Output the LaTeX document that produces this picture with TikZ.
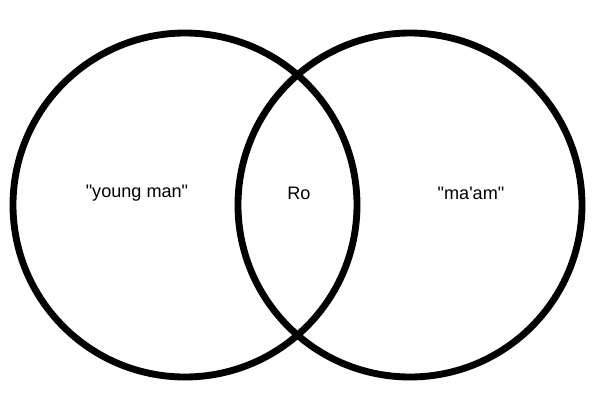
\documentclass[tikz,border=0pt]{standalone}
\usepackage{fontspec}
\setmainfont[Ligatures=TeXOff]{Liberation Sans}

\begin{document}
\begin{tikzpicture}[x=.02cm,y=-.02cm]
	\tikzset{ring/.style={line width=3.9pt},
		label/.style={font=\fontsize{10.3}{12}\selectfont}}
	\useasboundingbox (0,0) rectangle (600,400);
	\draw[ring] (185,205) circle (172);
	\draw[ring] (410,205) circle (172);

	\node[label] (young) at (137,193) {"young man"};
	\node[label] (ro) at (299,193) {Ro};
	\node[label] (maam) at (471,193) {"ma'am"};
\end{tikzpicture}
\end{document}
